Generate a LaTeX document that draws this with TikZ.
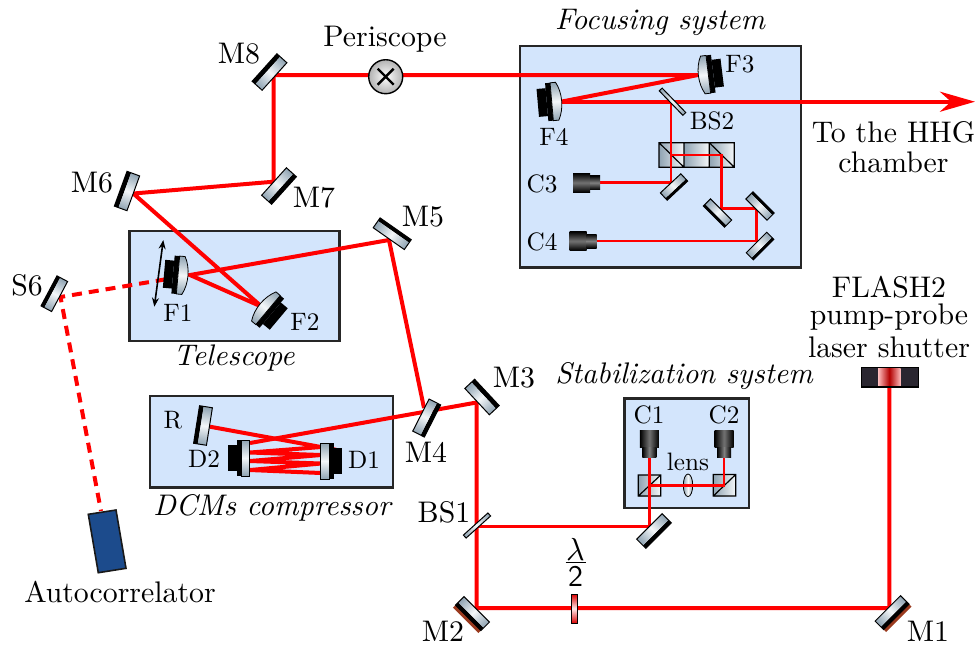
\documentclass[tikz,border=0pt]{standalone}
\usetikzlibrary{arrows.meta}
\definecolor{boxfill}{HTML}{D3E5FC}
\definecolor{silverend}{HTML}{8FA3B2}
\definecolor{silvermid}{HTML}{F4F7F9}
\definecolor{brownback}{HTML}{9A3A1E}
\definecolor{shutterdark}{HTML}{2A2630}
\definecolor{acblue}{HTML}{1C4B8C}
\tikzset{
  panel/.style={draw=black!85,fill=boxfill,line width=1.2pt},
  beam/.style={draw=red,line width=2pt,line join=miter},
  thinbeam/.style={draw=red,line width=1.4pt,line join=miter},
  dashbeam/.style={draw=red,line width=2pt,dash pattern=on 5pt off 3.5pt},
  face/.style={left color=silverend,right color=silverend,middle color=silvermid},
  cubeface/.style={shading=axis,shading angle=45,left color=silverend,right color=silvermid},
  biglabel/.style={font=\fontsize{10}{12}\selectfont,inner sep=0pt,transform shape,scale=1.49},
  smalllabel/.style={font=\fontsize{10}{12}\selectfont,inner sep=0pt,transform shape,scale=1.26},
  title/.style={font=\fontsize{10}{12}\selectfont\itshape,inner sep=0pt,transform shape,scale=1.49},
}
% #1 = x,y  #2 = angle  #3 half length  #4 half width; the face looks to local up
\newcommand{\flatmirror}[4]{%
  \begin{scope}[transform canvas={shift={(#1)},rotate=#2}]
    \fill[black] (-#3,2.3) rectangle (#3,#4);
    \shade[face] (-#3,-#4) rectangle (#3,2.3);
    \draw[black,line width=.5pt] (-#3,-#4) rectangle (#3,#4);
  \end{scope}}
\newcommand{\backedmirror}[3]{%
  \begin{scope}[transform canvas={shift={(#1)},rotate=#2}]
    \fill[brownback] (-#3,4) rectangle (#3,7.5);
    \fill[black] (-#3,0) rectangle (#3,4);
    \shade[face] (-#3,-8) rectangle (#3,0);
    \draw[black,line width=.5pt] (-#3,-8) rectangle (#3,4);
  \end{scope}}
\newcommand{\thinmirror}[3]{%
  \begin{scope}[transform canvas={shift={(#1)},rotate=#2}]
    \shade[face,draw=black,line width=.5pt] (-#3,-2) rectangle (#3,2);
  \end{scope}}
\newcommand{\curvedmirror}[2]{%
  \begin{scope}[transform canvas={shift={(#1)},rotate=#2}]
    \fill[black] (-19,0) rectangle (19,5);
    \fill[black] (-14,5) rectangle (14,14);
    \shade[face,draw=black,line width=.4pt] (-19,0) -- (19,0) -- (19,-5.5)
      .. controls (8,-11.5) and (-8,-11.5) .. (-19,-5.5) -- cycle;
  \end{scope}}
\newcommand{\dcmmirror}[2]{%
  \begin{scope}[transform canvas={shift={(#1)},rotate=#2}]
    \fill[black] (-18,0) rectangle (18,4.2);
    \fill[black] (-13,4) rectangle (13,13);
    \shade[face,draw=black,line width=.5pt] (-18,-8.5) rectangle (18,0);
  \end{scope}}
% tip of the nose at #1, pointing along local +x
\newcommand{\camera}[2]{%
  \begin{scope}[transform canvas={shift={(#1)},rotate=#2}]
    \shade[top color=black,bottom color=black,middle color=black!55] (-27,-9.5) rectangle (-10,9.5);
    \shade[top color=black,bottom color=black,middle color=black!50] (-10,-7) rectangle (0,7);
  \end{scope}}
\begin{document}
\begin{tikzpicture}[x=0.5pt,y=-0.5pt]
\useasboundingbox (0,0) rectangle (978,645);
% panels
\path[panel] (520,45.7) rectangle (800.7,267.3);
\path[panel] (129.3,230.7) rectangle (339.3,341);
\path[panel] (150,396) rectangle (392.7,487.3);
\path[panel] (624.3,398.3) rectangle (749,507.7);
% beam splitter cubes
\shade[cubeface] (659,142.7) rectangle (684,167.3);
\shade[cubeface] (684,142.7) rectangle (709.3,167.3);
\shade[cubeface] (709.3,142.7) rectangle (734.3,167.3);
\draw[black,line width=.6pt] (659,142.7) rectangle (734.3,167.3)
  (684,142.7) -- (684,167.3) (709.3,142.7) -- (709.3,167.3)
  (659,142.7) -- (684,167.3) (709.3,142.7) -- (734.3,167.3);
\shade[cubeface] (638.3,475) rectangle (660.7,496);
\draw[black,line width=.6pt] (638.3,475) rectangle (660.7,496) (638.3,496) -- (660.7,475);
\shade[cubeface] (713.3,474.5) rectangle (735.7,496);
\draw[black,line width=.6pt] (713.3,474.5) rectangle (735.7,496) (713.3,496) -- (735.7,474.5);
\shade[left color=silverend,right color=silverend,middle color=silvermid,draw=black,line width=.4pt] (688,485.3) ellipse (4.7 and 11.3);
% beam points
\coordinate (sh) at (889.3,387);
\coordinate (m1) at (889.3,608);
\coordinate (m2) at (476.5,608);
\coordinate (m3) at (476.5,402.5);
\coordinate (m4) at (424,408);
\coordinate (m5) at (389,240);
\coordinate (f1) at (190,275);
\coordinate (f1b) at (165.7,279.3);
\coordinate (f2) at (261.7,306.7);
\coordinate (m6) at (133.3,193.5);
\coordinate (m7) at (273.5,181.7);
\coordinate (m8) at (273.5,75);
\coordinate (f3) at (698,75);
\coordinate (f4) at (561,101.7);
\coordinate (out) at (975,101.7);
\coordinate (s6) at (60.5,297);
\coordinate (ac) at (101,511);
\coordinate (bs1) at (476.5,526.7);
\coordinate (fs) at (649.3,526.7);
\coordinate (c1) at (649.3,457);
\coordinate (cs) at (649.3,485.3);
\coordinate (cp) at (724,485.3);
\coordinate (c2) at (724,457);
\coordinate (bs2) at (671,101.7);
\coordinate (f3b) at (671,182.7);
\coordinate (c3) at (600,182.7);
\coordinate (cb) at (671,155);
\coordinate (cc) at (721.3,155);
\coordinate (fa) at (721.3,208.3);
\coordinate (fb) at (756.7,208.3);
\coordinate (fc) at (756.7,241);
\coordinate (c4) at (596.7,241);
\coordinate (rr) at (210,426.7);
\foreach \n/\a/\b in {a1/250/443,a2/321/447,a3/250/452.5,a4/321/455,a5/250/461,a6/321/463.5,a7/250/470,a8/321/473}
  \coordinate (\n) at (\a,\b);
% beams
\draw[beam] (sh) -- (m1) -- (m2) -- (m3) -- (a1);
\draw[beam] (rr) -- (a2) -- (a3) -- (a4) -- (a5) -- (a6) -- (a7) -- (a8);
\draw[beam] (m4) -- (m5) -- (f1) -- (f2) -- (m6) -- (m7) -- (m8) -- (f3) -- (f4);
\draw[beam,-{Stealth[length=17.5pt,width=10pt,inset=5.5pt]}] (f4) -- (out);
\draw[dashbeam] (f1b) -- (s6) -- (ac);
\draw[thinbeam] (bs1) -- (fs) -- (c1);
\draw[thinbeam] (cs) -- (cp) -- (c2);
\draw[thinbeam] (bs2) -- (f3b) -- (c3);
\draw[thinbeam] (cb) -- (cc) -- (fa) -- (fb) -- (fc) -- (c4);
% autocorrelator
\draw[fill=acblue,draw=black!90,line width=.8pt] (88.3,514.3) -- (116,510) -- (126,568.3) -- (98.3,572.7) -- cycle;
% shutter
\fill[shutterdark] (861.7,367.5) rectangle (918.3,387);
\shade[left color=red!25!white,right color=red!25!white,middle color=red!70!black] (878,368) rectangle (900.7,386.5);
\draw[black,line width=.7pt] (861.7,367.5) rectangle (918.3,387);
% wave plate
\shade[top color=red!85!black,bottom color=red!85!black,middle color=red!8!white,draw=black,line width=.5pt] (571.7,594) rectangle (577.3,623.3);
% periscope
\shade[inner color=white,outer color=black!30] (385.7,76.7) circle (17);
\draw[black,line width=.7pt] (385.7,76.7) circle (17);
\draw[black,line width=1.2pt] (377.7,68.7) -- (393.7,84.7) (377.7,84.7) -- (393.7,68.7);
% mirrors
\flatmirror{269.5,72}{-132}{18.5}{6.7}
\flatmirror{279,186}{48}{18.5}{6.7}
\flatmirror{127,191}{-110}{18.5}{6.7}
\flatmirror{392.2,233.7}{145}{19}{6}
\flatmirror{54.3,293.7}{-118}{17}{6}
\flatmirror{426.7,418}{63}{18}{6.5}
\flatmirror{482,397}{133}{18}{6.7}
\flatmirror{654,531}{45}{18}{6.5}
\flatmirror{203,425.5}{-99}{19}{6.5}
\flatmirror{674,187}{43}{14}{5}
\flatmirror{717.5,213}{-45}{15}{5}
\flatmirror{760,206}{135}{15}{5}
\flatmirror{760,246}{45}{14.5}{5}
\backedmirror{471,615}{-45}{18}
\backedmirror{893.5,614}{45}{18}
\thinmirror{477,525.5}{42}{16.5}
\thinmirror{672.5,101.7}{-46}{17}
\curvedmirror{708.3,74.3}{97}
\curvedmirror{551.7,101.7}{-85}
\curvedmirror{178,275}{-95}
\curvedmirror{268,310}{50}
\dcmmirror{241,458}{-90}
\dcmmirror{329.3,461}{90}
\camera{600,182.7}{0}
\camera{596.7,241}{0}
\camera{649.3,457.3}{-90}
\camera{724,457.3}{-90}
% F1 motion arrow
\coordinate (ma) at (163.3,240);
\coordinate (mb) at (154.3,306.7);
\draw[black,line width=.8pt,{Stealth[length=4.5pt,width=3.5pt]}-{Stealth[length=4.5pt,width=3.5pt]}] (ma) -- (mb);
% labels
\node[title] (tfoc) at (660,22) {Focusing system};
\node[title] (ttel) at (234,358) {Telescope};
\node[title] (tdcm) at (272,508) {DCMs compressor};
\node[title] (tsta) at (684,376) {Stabilization system};
\node[biglabel] (lper) at (385,39) {Periscope};
\node[biglabel] (lm8) at (239,54) {M8};
\node[biglabel] (lm6) at (92,183) {M6};
\node[biglabel] (lm7) at (314,198) {M7};
\node[biglabel] (lm5) at (423,217) {M5};
\node[biglabel] (ls6) at (27,285) {S6};
\node[biglabel] (lm4) at (426,452) {M4};
\node[biglabel] (lm3) at (514,378) {M3};
\node[biglabel] (lbs1) at (444,512) {BS1};
\node[biglabel] (lm2) at (443,631) {M2};
\node[biglabel] (lm1) at (928,631) {M1};
\node[biglabel] (lac) at (120,592) {Autocorrelator};
\node[biglabel] (lto) at (893.5,132) {To the HHG};
\node[biglabel] (lch) at (893.5,162) {chamber};
\node[biglabel] (lfa) at (889,287) {FLASH2};
\node[biglabel] (lfb) at (889,317) {pump-probe};
\node[biglabel] (lfc) at (889,347) {laser shutter};
\node[smalllabel] (lf3) at (740,64) {F3};
\node[smalllabel] (lf4) at (554,137) {F4};
\node[smalllabel] (lbs2) at (712,121) {BS2};
\node[smalllabel] (lc3) at (542,184) {C3};
\node[smalllabel] (lc4) at (542,242) {C4};
\node[smalllabel] (lf1) at (178,313) {F1};
\node[smalllabel] (lf2) at (305,322) {F2};
\node[smalllabel] (lr) at (173,420) {R};
\node[smalllabel] (ld2) at (204,459) {D2};
\node[smalllabel] (ld1) at (364,460) {D1};
\node[smalllabel] (lc1) at (649,415) {C1};
\node[smalllabel] (lc2) at (724,415) {C2};
\node[smalllabel] (llens) at (688,462) {lens};
% half-wave label
\node[biglabel,scale=1.07] (llam) at (575.5,549.5) {$\lambda$};
\node[biglabel,font=\fontsize{10}{12}\selectfont\sffamily] (ltwo) at (575.5,576.5) {2};
\coordinate (barl) at (565.7,562.5);
\coordinate (barr) at (585.5,562.5);
\draw[black,line width=.6pt] (barl) -- (barr);
\end{tikzpicture}
\end{document}
